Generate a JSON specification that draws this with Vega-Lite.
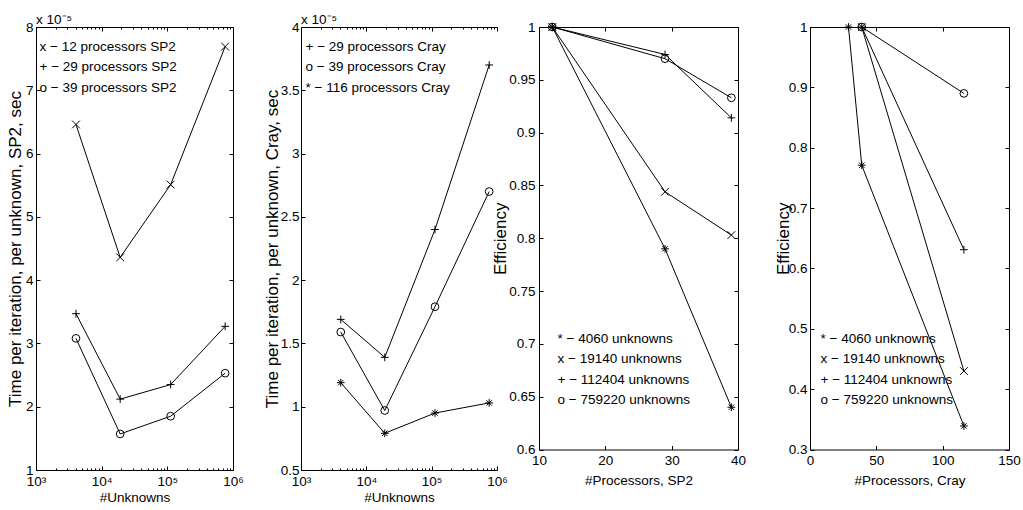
{
  "$schema": "https://vega.github.io/schema/vega-lite/v6.json",
  "padding": {"left": 6, "top": 12, "right": 0, "bottom": 0},
  "background": "white",
  "datasets": {
    "sp2time": [
      {"unknowns": 4060, "time": 0.0000646, "series": "x − 12 processors SP2"},
      {"unknowns": 19140, "time": 0.0000436, "series": "x − 12 processors SP2"},
      {"unknowns": 112404, "time": 0.0000551, "series": "x − 12 processors SP2"},
      {"unknowns": 759220, "time": 0.0000769, "series": "x − 12 processors SP2"},
      {"unknowns": 4060, "time": 0.0000347, "series": "+ − 29 processors SP2"},
      {"unknowns": 19140, "time": 0.0000212, "series": "+ − 29 processors SP2"},
      {"unknowns": 112404, "time": 0.0000235, "series": "+ − 29 processors SP2"},
      {"unknowns": 759220, "time": 0.0000327, "series": "+ − 29 processors SP2"},
      {"unknowns": 4060, "time": 0.0000308, "series": "o − 39 processors SP2"},
      {"unknowns": 19140, "time": 0.0000157, "series": "o − 39 processors SP2"},
      {"unknowns": 112404, "time": 0.0000185, "series": "o − 39 processors SP2"},
      {"unknowns": 759220, "time": 0.0000253, "series": "o − 39 processors SP2"}
    ],
    "craytime": [
      {"unknowns": 4060, "time": 0.0000169, "series": "+ − 29 processors Cray"},
      {"unknowns": 19140, "time": 0.0000139, "series": "+ − 29 processors Cray"},
      {"unknowns": 112404, "time": 0.0000240, "series": "+ − 29 processors Cray"},
      {"unknowns": 759220, "time": 0.0000370, "series": "+ − 29 processors Cray"},
      {"unknowns": 4060, "time": 0.0000159, "series": "o − 39 processors Cray"},
      {"unknowns": 19140, "time": 0.0000097, "series": "o − 39 processors Cray"},
      {"unknowns": 112404, "time": 0.0000179, "series": "o − 39 processors Cray"},
      {"unknowns": 759220, "time": 0.0000270, "series": "o − 39 processors Cray"},
      {"unknowns": 4060, "time": 0.0000119, "series": "* − 116 processors Cray"},
      {"unknowns": 19140, "time": 0.0000079, "series": "* − 116 processors Cray"},
      {"unknowns": 112404, "time": 0.0000095, "series": "* − 116 processors Cray"},
      {"unknowns": 759220, "time": 0.0000103, "series": "* − 116 processors Cray"}
    ],
    "sp2eff": [
      {"processors": 12, "efficiency": 1, "series": "* − 4060 unknowns"},
      {"processors": 29, "efficiency": 0.790, "series": "* − 4060 unknowns"},
      {"processors": 39, "efficiency": 0.640, "series": "* − 4060 unknowns"},
      {"processors": 12, "efficiency": 1, "series": "x − 19140 unknowns"},
      {"processors": 29, "efficiency": 0.844, "series": "x − 19140 unknowns"},
      {"processors": 39, "efficiency": 0.803, "series": "x − 19140 unknowns"},
      {"processors": 12, "efficiency": 1, "series": "+ − 112404 unknowns"},
      {"processors": 29, "efficiency": 0.974, "series": "+ − 112404 unknowns"},
      {"processors": 39, "efficiency": 0.914, "series": "+ − 112404 unknowns"},
      {"processors": 12, "efficiency": 1, "series": "o − 759220 unknowns"},
      {"processors": 29, "efficiency": 0.970, "series": "o − 759220 unknowns"},
      {"processors": 39, "efficiency": 0.933, "series": "o − 759220 unknowns"}
    ],
    "crayeff": [
      {"processors": 29, "efficiency": 1, "series": "* − 4060 unknowns"},
      {"processors": 39, "efficiency": 0.771, "series": "* − 4060 unknowns"},
      {"processors": 116, "efficiency": 0.339, "series": "* − 4060 unknowns"},
      {"processors": 39, "efficiency": 1, "series": "x − 19140 unknowns"},
      {"processors": 116, "efficiency": 0.430, "series": "x − 19140 unknowns"},
      {"processors": 39, "efficiency": 1, "series": "+ − 112404 unknowns"},
      {"processors": 116, "efficiency": 0.631, "series": "+ − 112404 unknowns"},
      {"processors": 39, "efficiency": 1, "series": "o − 759220 unknowns"},
      {"processors": 116, "efficiency": 0.890, "series": "o − 759220 unknowns"}
    ]
  },
  "hconcat": [
    {
      "width": 197, "height": 443,
      "title": {"text": "x 10⁻⁵", "offset": -6},
      "data": {"name": "sp2time"},
      "layer": [
        {
          "mark": {"type": "line", "color": "black", "strokeWidth": 1},
          "encoding": {
            "x": {"field": "unknowns", "type": "quantitative", "scale": {"type": "log", "domain": [1000, 1000000], "nice": false},
              "axis": {"orient": "bottom", "title": "#Unknowns", "values": [1000, 10000, 100000, 1000000], "labelExpr": "'10' + (datum.value < 5000 ? '³' : datum.value < 50000 ? '⁴' : datum.value < 500000 ? '⁵' : '⁶')", "labelPadding": 8, "titlePadding": 3}},
            "y": {"field": "time", "type": "quantitative", "scale": {"domain": [0.00001, 0.00008], "nice": false, "zero": false},
              "axis": {"orient": "left", "title": "Time per iteration, per unknown, SP2, sec", "titleFontSize": 17, "values": [0.00001, 0.00002, 0.00003, 0.00004, 0.00005, 0.00006, 0.00007, 0.00008], "labelExpr": "format(datum.value * 100000, '~g')", "labelPadding": 7, "titlePadding": 1}},
            "detail": {"field": "series", "type": "nominal"}
          }
        },
        {
          "mark": {"type": "point", "filled": false, "stroke": "black", "strokeWidth": 1, "size": 60, "opacity": 1},
          "encoding": {
            "x": {"field": "unknowns", "type": "quantitative", "scale": {"type": "log", "domain": [1000, 1000000], "nice": false},
              "axis": {"orient": "top", "title": null, "labels": false, "values": [1000, 10000, 100000, 1000000]}},
            "y": {"field": "time", "type": "quantitative", "scale": {"domain": [0.00001, 0.00008], "nice": false, "zero": false},
              "axis": {"orient": "right", "title": " ", "titleFontSize": 10, "titlePadding": 44, "labels": false, "values": [0.00001, 0.00002, 0.00003, 0.00004, 0.00005, 0.00006, 0.00007, 0.00008]}},
            "shape": {"field": "series", "type": "nominal",
              "scale": {"domain": ["x − 12 processors SP2", "+ − 29 processors SP2", "o − 39 processors SP2"], "range": ["M-1,-1L1,1M-1,1L1,-1", "M-1,0L1,0M0,-1L0,1", "circle"]},
              "legend": {"orient": "none", "legendX": -10, "legendY": 13, "title": null}}
          }
        },
        {
          "mark": {"type": "point", "opacity": 0},
          "encoding": {
            "x": {"field": "unknowns", "type": "quantitative", "scale": {"type": "log", "domain": [1000, 1000000], "nice": false},
              "axis": {"orient": "bottom", "title": null, "labels": false, "domain": false, "tickSize": -2, "values": [2000, 3000, 4000, 5000, 6000, 7000, 8000, 9000, 20000, 30000, 40000, 50000, 60000, 70000, 80000, 90000, 200000, 300000, 400000, 500000, 600000, 700000, 800000, 900000]}},
            "y": {"field": "time", "type": "quantitative", "scale": {"domain": [0.00001, 0.00008], "nice": false, "zero": false}, "axis": null}
          }
        },
        {
          "mark": {"type": "point", "opacity": 0},
          "encoding": {
            "x": {"field": "unknowns", "type": "quantitative", "scale": {"type": "log", "domain": [1000, 1000000], "nice": false},
              "axis": {"orient": "top", "title": null, "labels": false, "domain": false, "tickSize": -2, "values": [2000, 3000, 4000, 5000, 6000, 7000, 8000, 9000, 20000, 30000, 40000, 50000, 60000, 70000, 80000, 90000, 200000, 300000, 400000, 500000, 600000, 700000, 800000, 900000]}},
            "y": {"field": "time", "type": "quantitative", "scale": {"domain": [0.00001, 0.00008], "nice": false, "zero": false}, "axis": null}
          }
        }
      ],
      "resolve": {"axis": {"x": "independent", "y": "independent"}}
    },
    {
      "width": 196, "height": 443,
      "title": {"text": "x 10⁻⁵", "offset": -6},
      "data": {"name": "craytime"},
      "layer": [
        {
          "mark": {"type": "line", "color": "black", "strokeWidth": 1},
          "encoding": {
            "x": {"field": "unknowns", "type": "quantitative", "scale": {"type": "log", "domain": [1000, 1000000], "nice": false},
              "axis": {"orient": "bottom", "title": "#Unknowns", "values": [1000, 10000, 100000, 1000000], "labelExpr": "'10' + (datum.value < 5000 ? '³' : datum.value < 50000 ? '⁴' : datum.value < 500000 ? '⁵' : '⁶')", "labelPadding": 8, "titlePadding": 3}},
            "y": {"field": "time", "type": "quantitative", "scale": {"domain": [0.000005, 0.00004], "nice": false, "zero": false},
              "axis": {"orient": "left", "title": "Time per iteration, per unknown, Cray, sec", "titleFontSize": 17, "values": [0.000005, 0.00001, 0.000015, 0.00002, 0.000025, 0.00003, 0.000035, 0.00004], "labelExpr": "format(datum.value * 100000, '~g')", "labelPadding": 6, "titlePadding": -1}},
            "detail": {"field": "series", "type": "nominal"}
          }
        },
        {
          "mark": {"type": "point", "filled": false, "stroke": "black", "strokeWidth": 1, "size": 60, "opacity": 1},
          "encoding": {
            "x": {"field": "unknowns", "type": "quantitative", "scale": {"type": "log", "domain": [1000, 1000000], "nice": false},
              "axis": {"orient": "top", "title": null, "labels": false, "values": [1000, 10000, 100000, 1000000]}},
            "y": {"field": "time", "type": "quantitative", "scale": {"domain": [0.000005, 0.00004], "nice": false, "zero": false},
              "axis": {"orient": "right", "title": " ", "titleFontSize": 10, "titlePadding": 8.5, "labels": false, "ticks": false, "domain": false}},
            "shape": {"field": "series", "type": "nominal",
              "scale": {"domain": ["+ − 29 processors Cray", "o − 39 processors Cray", "* − 116 processors Cray"], "range": ["M-1,0L1,0M0,-1L0,1", "circle", "M-1,0L1,0M0,-1L0,1M-0.7,-0.7L0.7,0.7M-0.7,0.7L0.7,-0.7"]},
              "legend": {"orient": "none", "legendX": -9, "legendY": 13, "title": null}}
          }
        },
        {
          "mark": {"type": "point", "opacity": 0},
          "encoding": {
            "x": {"field": "unknowns", "type": "quantitative", "scale": {"type": "log", "domain": [1000, 1000000], "nice": false},
              "axis": {"orient": "bottom", "title": null, "labels": false, "domain": false, "tickSize": -2, "values": [2000, 3000, 4000, 5000, 6000, 7000, 8000, 9000, 20000, 30000, 40000, 50000, 60000, 70000, 80000, 90000, 200000, 300000, 400000, 500000, 600000, 700000, 800000, 900000]}},
            "y": {"field": "time", "type": "quantitative", "scale": {"domain": [0.000005, 0.00004], "nice": false, "zero": false}, "axis": null}
          }
        },
        {
          "mark": {"type": "point", "opacity": 0},
          "encoding": {
            "x": {"field": "unknowns", "type": "quantitative", "scale": {"type": "log", "domain": [1000, 1000000], "nice": false},
              "axis": {"orient": "top", "title": null, "labels": false, "domain": false, "tickSize": -2, "values": [2000, 3000, 4000, 5000, 6000, 7000, 8000, 9000, 20000, 30000, 40000, 50000, 60000, 70000, 80000, 90000, 200000, 300000, 400000, 500000, 600000, 700000, 800000, 900000]}},
            "y": {"field": "time", "type": "quantitative", "scale": {"domain": [0.000005, 0.00004], "nice": false, "zero": false}, "axis": null}
          }
        }
      ],
      "resolve": {"axis": {"x": "independent", "y": "independent"}}
    },
    {
      "width": 199, "height": 422.5,
      "data": {"name": "sp2eff"},
      "layer": [
        {
          "mark": {"type": "line", "color": "black", "strokeWidth": 1},
          "encoding": {
            "x": {"field": "processors", "type": "quantitative", "scale": {"domain": [10, 40], "nice": false, "zero": false},
              "axis": {"orient": "bottom", "title": "#Processors, SP2", "values": [10, 20, 30, 40], "labelExpr": "datum.value + ''", "labelPadding": 8, "titlePadding": 6}},
            "y": {"field": "efficiency", "type": "quantitative", "scale": {"domain": [0.6, 1], "nice": false, "zero": false},
              "axis": {"orient": "left", "title": "Efficiency", "titleFontSize": 17, "values": [0.6, 0.65, 0.7, 0.75, 0.8, 0.85, 0.9, 0.95, 1], "labelExpr": "datum.value + ''", "labelPadding": 8, "titlePadding": -1}},
            "detail": {"field": "series", "type": "nominal"}
          }
        },
        {
          "mark": {"type": "point", "filled": false, "stroke": "black", "strokeWidth": 1, "size": 60, "opacity": 1},
          "encoding": {
            "x": {"field": "processors", "type": "quantitative", "scale": {"domain": [10, 40], "nice": false, "zero": false},
              "axis": {"orient": "top", "title": null, "labels": false, "values": [10, 20, 30, 40]}},
            "y": {"field": "efficiency", "type": "quantitative", "scale": {"domain": [0.6, 1], "nice": false, "zero": false},
              "axis": {"orient": "right", "title": " ", "titleFontSize": 10, "titlePadding": 50.5, "labels": false, "values": [0.6, 0.65, 0.7, 0.75, 0.8, 0.85, 0.9, 0.95, 1]}},
            "shape": {"field": "series", "type": "nominal",
              "scale": {"domain": ["* − 4060 unknowns", "x − 19140 unknowns", "+ − 112404 unknowns", "o − 759220 unknowns"], "range": ["M-1,0L1,0M0,-1L0,1M-0.7,-0.7L0.7,0.7M-0.7,0.7L0.7,-0.7", "M-1,-1L1,1M-1,1L1,-1", "M-1,0L1,0M0,-1L0,1", "circle"]},
              "legend": {"orient": "none", "legendX": 5, "legendY": 305, "title": null}}
          }
        }
      ],
      "resolve": {"axis": {"x": "independent", "y": "independent"}}
    },
    {
      "width": 199, "height": 422.5,
      "data": {"name": "crayeff"},
      "layer": [
        {
          "mark": {"type": "line", "color": "black", "strokeWidth": 1},
          "encoding": {
            "x": {"field": "processors", "type": "quantitative", "scale": {"domain": [0, 150], "nice": false, "zero": false},
              "axis": {"orient": "bottom", "title": "#Processors, Cray", "values": [0, 50, 100, 150], "labelExpr": "datum.value + ''", "labelPadding": 8, "titlePadding": 6}},
            "y": {"field": "efficiency", "type": "quantitative", "scale": {"domain": [0.3, 1], "nice": false, "zero": false},
              "axis": {"orient": "left", "title": "Efficiency", "titleFontSize": 17, "values": [0.3, 0.4, 0.5, 0.6, 0.7, 0.8, 0.9, 1], "labelExpr": "datum.value + ''", "labelPadding": 7, "titlePadding": -4}},
            "detail": {"field": "series", "type": "nominal"}
          }
        },
        {
          "mark": {"type": "point", "filled": false, "stroke": "black", "strokeWidth": 1, "size": 60, "opacity": 1},
          "encoding": {
            "x": {"field": "processors", "type": "quantitative", "scale": {"domain": [0, 150], "nice": false, "zero": false},
              "axis": {"orient": "top", "title": null, "labels": false, "values": [0, 50, 100, 150]}},
            "y": {"field": "efficiency", "type": "quantitative", "scale": {"domain": [0.3, 1], "nice": false, "zero": false},
              "axis": {"orient": "right", "title": null, "labels": false, "values": [0.3, 0.4, 0.5, 0.6, 0.7, 0.8, 0.9, 1]}},
            "shape": {"field": "series", "type": "nominal",
              "scale": {"domain": ["* − 4060 unknowns", "x − 19140 unknowns", "+ − 112404 unknowns", "o − 759220 unknowns"], "range": ["M-1,0L1,0M0,-1L0,1M-0.7,-0.7L0.7,0.7M-0.7,0.7L0.7,-0.7", "M-1,-1L1,1M-1,1L1,-1", "M-1,0L1,0M0,-1L0,1", "circle"]},
              "legend": {"orient": "none", "legendX": -3, "legendY": 305, "title": null}}
          }
        }
      ],
      "resolve": {"axis": {"x": "independent", "y": "independent"}}
    }
  ],
  "spacing": -25,
  "bounds": "full",
  "align": {"row": "none", "column": "none"},
  "resolve": {"scale": {"shape": "independent"}, "legend": {"shape": "independent"}},
  "config": {
    "font": "Liberation Sans",
    "view": {"stroke": null},
    "axis": {"labelFont": "Liberation Sans", "titleFont": "Liberation Sans", "labelFontSize": 13.5, "titleFontSize": 13.5, "titleFontWeight": "normal", "labelColor": "black", "titleColor": "black", "domainColor": "black", "tickColor": "black", "grid": false, "tickSize": -4, "domainWidth": 1, "tickWidth": 1, "labelFlush": false, "labelOverlap": false},
    "legend": {"symbolSize": 0, "symbolOpacity": 0, "symbolStrokeWidth": 0, "labelFontSize": 13.5, "labelFont": "Liberation Sans", "labelColor": "black", "rowPadding": 5.5, "labelOffset": 0, "padding": 0, "labelLimit": 300},
    "title": {"fontSize": 13.5, "fontWeight": "normal", "font": "Liberation Sans", "anchor": "start", "frame": "group", "color": "black"}
  }
}
